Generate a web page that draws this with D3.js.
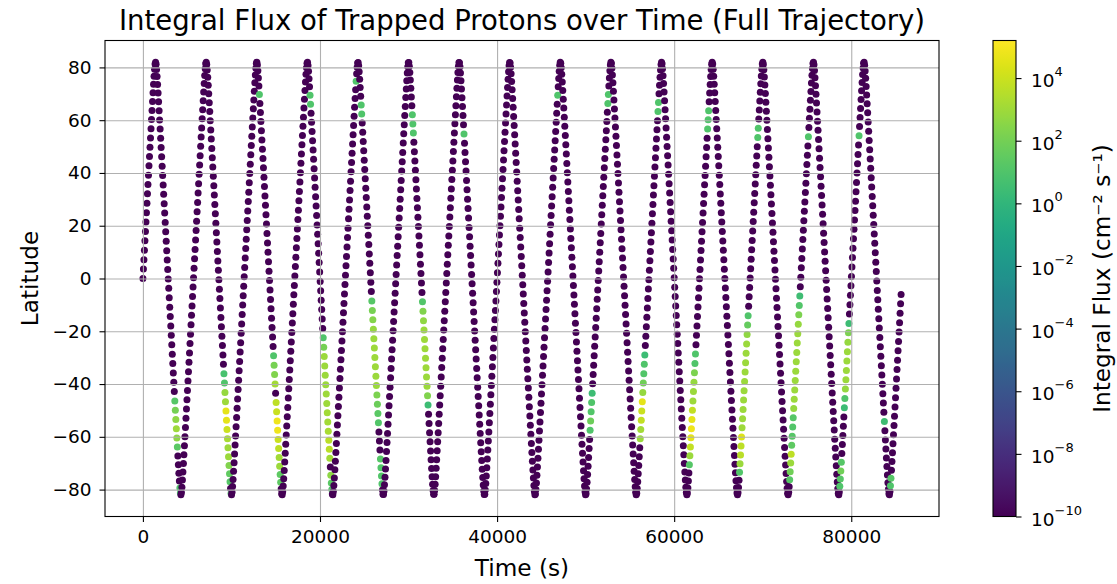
<!DOCTYPE html>
<html>
<head>
<meta charset="utf-8">
<script src="https://cdn.jsdelivr.net/npm/d3@7"></script>
<style>
body { margin: 0; background: #fff; }
text { font-family: "DejaVu Sans", sans-serif; fill: #000; }
</style>
</head>
<body>
<div id="chart"></div>
<script>
// orbit: peak spacing, max latitude, dot spacing
var orbitPeriod = 5715;
var inclination = 82;
var timeStep = 57.2;
var sampleCount = 1498;

var xTicks = [0, 20000, 40000, 60000, 80000];
var yTicks = [-80, -60, -40, -20, 0, 20, 40, 60, 80];
var cbTicks = [-10, -8, -6, -4, -2, 0, 2, 4];
var fluxFloor = -10;   // log10 flux of the purple background points
var fluxTop = 5.2;

// coloured passes: orbit number, leg (A = ascending, D = descending),
// latitudes of the coloured dots and their log10 flux
var passOrbit = [2, 3, 4, 4, 5, 6, 8, 9, 10, 11, 12, 13, 14,
	0, 1, 2, 3, 4, 5, 9, 10, 11, 12, 13, 14, 14, 15];
var passLeg = ["D", "D", "A", "D", "D", "D", "A", "A", "A", "A", "A", "A", "A",
	"D", "D", "D", "D", "D", "D", "A", "A", "A", "A", "A", "A", "D", "A"];
var passLat = [
	[71.2], [68, 64.6], [73.2], [64.9, 61.5], [61.6, 58.3, 54.8], [55], [69],
	[65.4, 69], [61.9, 65.3], [58.2, 61.6, 64.9], [54.4, 57.8], [54.2], [53.8],
	[-46, -49.5, -52.9, -56.5, -59.9, -63.4, -79.8, -81.6],
	[-35, -38.6, -42.1, -45.6, -49.2, -52.7, -56.1, -59.6, -63, -66.5, -69.9, -73.1, -76.3, -81.6],
	[-27.8, -31.3, -34.7, -38.2, -41.7, -45.4, -48.9, -52.4, -55.8, -59.4, -62.9, -66.4, -69.7, -74, -77.5],
	[-24, -27.5, -30.9, -34.7, -38.2, -41.7, -45.4, -48.9, -52.4, -55.8, -59.4, -62.9, -66.4, -69.7, -73.1, -76.3, -79.4],
	[-9.5, -13, -16.5, -20, -23.6, -27.1, -30.6, -34.2, -37.8, -41.4, -45, -48.5, -52.1, -55.6, -69.6, -72.9, -75.9, -78.8],
	[-9.2, -13, -16.5, -20, -23.6, -27.1, -30.6, -34.2, -37.8, -41.4, -44.9, -48.4],
	[-58.6, -55.1, -51.6, -48, -44.5],
	[-62.2, -58.6, -55.2, -51.7, -48.2, -44.8, -41.2, -37.7, -34.2, -30.6],
	[-69.3, -65.9, -62.4, -58.9, -55.5, -51.9, -48.4, -44.9, -41.4, -37.8, -34.3, -30.6, -27.1],
	[-72.5, -69.6, -66, -62.5, -59, -55.5, -51.9, -48.4, -44.9, -41.4, -37.8, -34.3, -30.8, -27.2, -23.7, -20.2, -16.6, -13.2],
	[-76, -73, -69.7, -66.2, -62.6, -59.1, -55.8, -52.3, -48.7, -45.1, -41.6, -38.1, -34.6, -31, -27.5, -24, -20.4, -16.9, -13.4, -9.8, -6.3],
	[-79.3, -76.3, -73.1, -69.7, -49, -45.6, -42, -38.5, -34.7, -31.2, -27.6, -24.1, -20.6, -17],
	[-53.5],
	[-79.3, -76.5]
];
var passLogFlux = [
	[1.0], [1.0, 1.0], [1.0], [1.0, 1.0], [1.0, 1.0, 1.0], [1.0], [1.0],
	[1.0, 1.0], [1.0, 1.0], [1.0, 1.0, 1.0], [1.0, 1.0], [1.0], [1.0],
	[1.2, 2.0, 2.6, 3.0, 2.6, 1.3, 1.0, 0.8],
	[0.8, 1.0, 2.8, 3.0, 4.6, 4.6, 4.0, 3.2, 3.0, 2.9, 2.3, 1.5, 1.2, 1.0],
	[1.0, 2.1, 2.3, 2.9, 3.1, 3.7, 3.9, 4.8, 4.8, 4.0, 3.7, 3.1, 2.9, 1.4, 1.4],
	[1.0, 2.0, 2.9, 2.9, 2.9, 2.9, 3.0, 3.0, 3.1, 3.1, 3.2, 3.6, 3.6, 3.1, 2.6, 1.3, 1.1],
	[1.2, 2.1, 2.4, 2.8, 2.9, 3.0, 3.0, 3.0, 2.9, 2.9, 2.2, 1.8, 1.3, 1.1, 1.2, 1.1, 1.1, 1.0],
	[1.1, 2.3, 2.7, 2.9, 3.0, 3.0, 3.0, 3.0, 2.9, 2.9, 2.3, 0.4],
	[1.0, 1.8, 1.1, 1.0, 0.4],
	[2.9, 3.1, 3.8, 4.0, 4.6, 2.8, 1.9, 1.1, 1.0, 0.4],
	[1.2, 2.9, 3.8, 4.6, 4.8, 4.6, 3.8, 3.0, 2.9, 2.8, 2.2, 1.0, 1.0],
	[1.1, 2.9, 3.6, 3.7, 4.4, 3.0, 2.9, 2.9, 2.9, 2.9, 2.9, 2.9, 2.9, 2.9, 2.9, 2.7, 1.6, 1.0],
	[1.2, 1.9, 2.9, 3.7, 1.4, 1.2, 1.1, 1.2, 2.8, 2.9, 2.9, 2.9, 2.9, 2.9, 2.9, 2.9, 2.9, 2.8, 2.2, 1.1, 0.5],
	[1.0, 1.2, 1.9, 1.2, 0.4, 1.0, 2.8, 2.9, 2.9, 2.9, 2.9, 2.8, 2.2, 0.4],
	[0.5],
	[1.0, 1.2]
];

var width = 1117, height = 584;
var plotLeft = 105, plotRight = 939, plotTop = 40.5, plotBottom = 516.5;
var cbLeft = 993, cbWidth = 23;
var tickFont = 18.5, labelFont = 23.2, titleFont = 27.5;

// ground track of a circular orbit
var rad = Math.PI / 180;
var track = d3.range(sampleCount).map(function(i) {
	var t = i * timeStep;
	var u = 2 * Math.PI * t / orbitPeriod;
	return {
		t: t,
		lat: Math.asin(Math.sin(inclination * rad) * Math.sin(u)) / rad,
		logFlux: fluxFloor
	};
});

passOrbit.forEach(function(k, p) {
	var t0 = passLeg[p] == "A" ? (k - 0.25) * orbitPeriod : (k + 0.25) * orbitPeriod;
	var leg = track.filter(function(d) { return d.t >= t0 && d.t < t0 + orbitPeriod / 2; });
	passLat[p].forEach(function(lat, j) {
		var best = d3.least(leg, function(d) { return Math.abs(d.lat - lat); });
		if (best) best.logFlux = passLogFlux[p][j];
	});
});

var tExt = d3.extent(track, function(d) { return d.t; });
var tPad = (tExt[1] - tExt[0]) * 0.05;
var latExt = d3.extent(track, function(d) { return d.lat; });
var latPad = (latExt[1] - latExt[0]) * 0.05;

var x = d3.scaleLinear()
	.domain([tExt[0] - tPad, tExt[1] + tPad])
	.range([plotLeft, plotRight]);

var y = d3.scaleLinear()
	.domain([latExt[0] - latPad, latExt[1] + latPad])
	.range([plotBottom, plotTop]);

var color = d3.scaleSequential(d3.interpolateViridis)
	.domain([fluxFloor, fluxTop]);

var svg = d3.select("#chart").append("svg")
	.attr("width", width)
	.attr("height", height);

// dots
svg.append("g")
	.selectAll("circle")
	.data(track)
	.enter().append("circle")
		.attr("cx", function(d) { return x(d.t); })
		.attr("cy", function(d) { return y(d.lat); })
		.attr("r", 3.5)
		.style("fill", function(d) { return color(d.logFlux); });

// grid on top of the dots, like matplotlib
svg.append("g")
	.attr("transform", "translate(0," + plotBottom + ")")
	.call(d3.axisBottom(x).tickValues(xTicks).tickSize(-(plotBottom - plotTop)).tickFormat(""))
	.call(function(g) { g.select(".domain").remove(); })
	.selectAll("line").attr("stroke", "#b0b0b0").attr("stroke-width", 1.1);

svg.append("g")
	.attr("transform", "translate(" + plotLeft + ",0)")
	.call(d3.axisLeft(y).tickValues(yTicks).tickSize(-(plotRight - plotLeft)).tickFormat(""))
	.call(function(g) { g.select(".domain").remove(); })
	.selectAll("line").attr("stroke", "#b0b0b0").attr("stroke-width", 1.1);

// axes
var xAxis = svg.append("g")
	.attr("transform", "translate(0," + plotBottom + ")")
	.call(d3.axisBottom(x).tickValues(xTicks).tickSize(5.5).tickPadding(8).tickFormat(d3.format("d")));

var yAxis = svg.append("g")
	.attr("transform", "translate(" + plotLeft + ",0)")
	.call(d3.axisLeft(y).tickValues(yTicks).tickSize(5.5).tickPadding(8).tickFormat(d3.format("d")));

[xAxis, yAxis].forEach(function(g) {
	g.select(".domain").remove();
	g.selectAll("line").attr("stroke", "#000").attr("stroke-width", 1.1);
	g.selectAll("text").style("font-size", tickFont + "px").style("font-family", "DejaVu Sans").attr("fill", "#000");
});

svg.append("rect")
	.attr("x", plotLeft).attr("y", plotTop)
	.attr("width", plotRight - plotLeft).attr("height", plotBottom - plotTop)
	.attr("fill", "none").attr("stroke", "#000").attr("stroke-width", 1.1);

// labels
svg.append("text")
	.attr("x", (plotLeft + plotRight) / 2).attr("y", 30)
	.attr("text-anchor", "middle")
	.style("font-size", titleFont + "px")
	.text("Integral Flux of Trapped Protons over Time (Full Trajectory)");

svg.append("text")
	.attr("x", (plotLeft + plotRight) / 2).attr("y", 576)
	.attr("text-anchor", "middle")
	.style("font-size", labelFont + "px")
	.text("Time (s)");

svg.append("text")
	.attr("transform", "translate(38," + (plotTop + plotBottom) / 2 + ") rotate(-90)")
	.attr("text-anchor", "middle")
	.style("font-size", labelFont + "px")
	.text("Latitude");

// colour bar
var cb = d3.scaleLinear()
	.domain([fluxFloor, fluxTop])
	.range([plotBottom, plotTop]);

var grad = svg.append("defs").append("linearGradient")
	.attr("id", "viridis")
	.attr("x1", 0).attr("y1", 1).attr("x2", 0).attr("y2", 0);

grad.selectAll("stop")
	.data(d3.range(0, 1.0001, 0.02))
	.enter().append("stop")
		.attr("offset", function(d) { return d; })
		.attr("stop-color", function(d) { return d3.interpolateViridis(d); });

svg.append("rect")
	.attr("x", cbLeft).attr("y", plotTop)
	.attr("width", cbWidth).attr("height", plotBottom - plotTop)
	.attr("fill", "url(#viridis)")
	.attr("stroke", "#000").attr("stroke-width", 1.1);

var cbAxis = svg.append("g")
	.attr("transform", "translate(" + (cbLeft + cbWidth) + ",0)")
	.call(d3.axisRight(cb).tickValues(cbTicks).tickSize(5.5).tickFormat(""));
cbAxis.select(".domain").remove();
cbAxis.selectAll("line").attr("stroke", "#000").attr("stroke-width", 1.1);

var cbLabel = svg.append("g").selectAll("text")
	.data(cbTicks)
	.enter().append("text")
		.attr("x", cbLeft + cbWidth + 15)
		.attr("y", function(d) { return cb(d) + 9; })
		.style("font-size", tickFont + "px");
cbLabel.append("tspan").text("10");
cbLabel.append("tspan")
	.attr("dy", -11)
	.style("font-size", "13px")
	.text(function(d) { return d3.format("d")(d); });

svg.append("text")
	.attr("transform", "translate(1110," + (plotTop + plotBottom) / 2 + ") rotate(-90)")
	.attr("text-anchor", "middle")
	.style("font-size", labelFont + "px")
	.text("Integral Flux (cm\u207B\u00B2 s\u207B\u00B9)");
</script>
</body>
</html>
